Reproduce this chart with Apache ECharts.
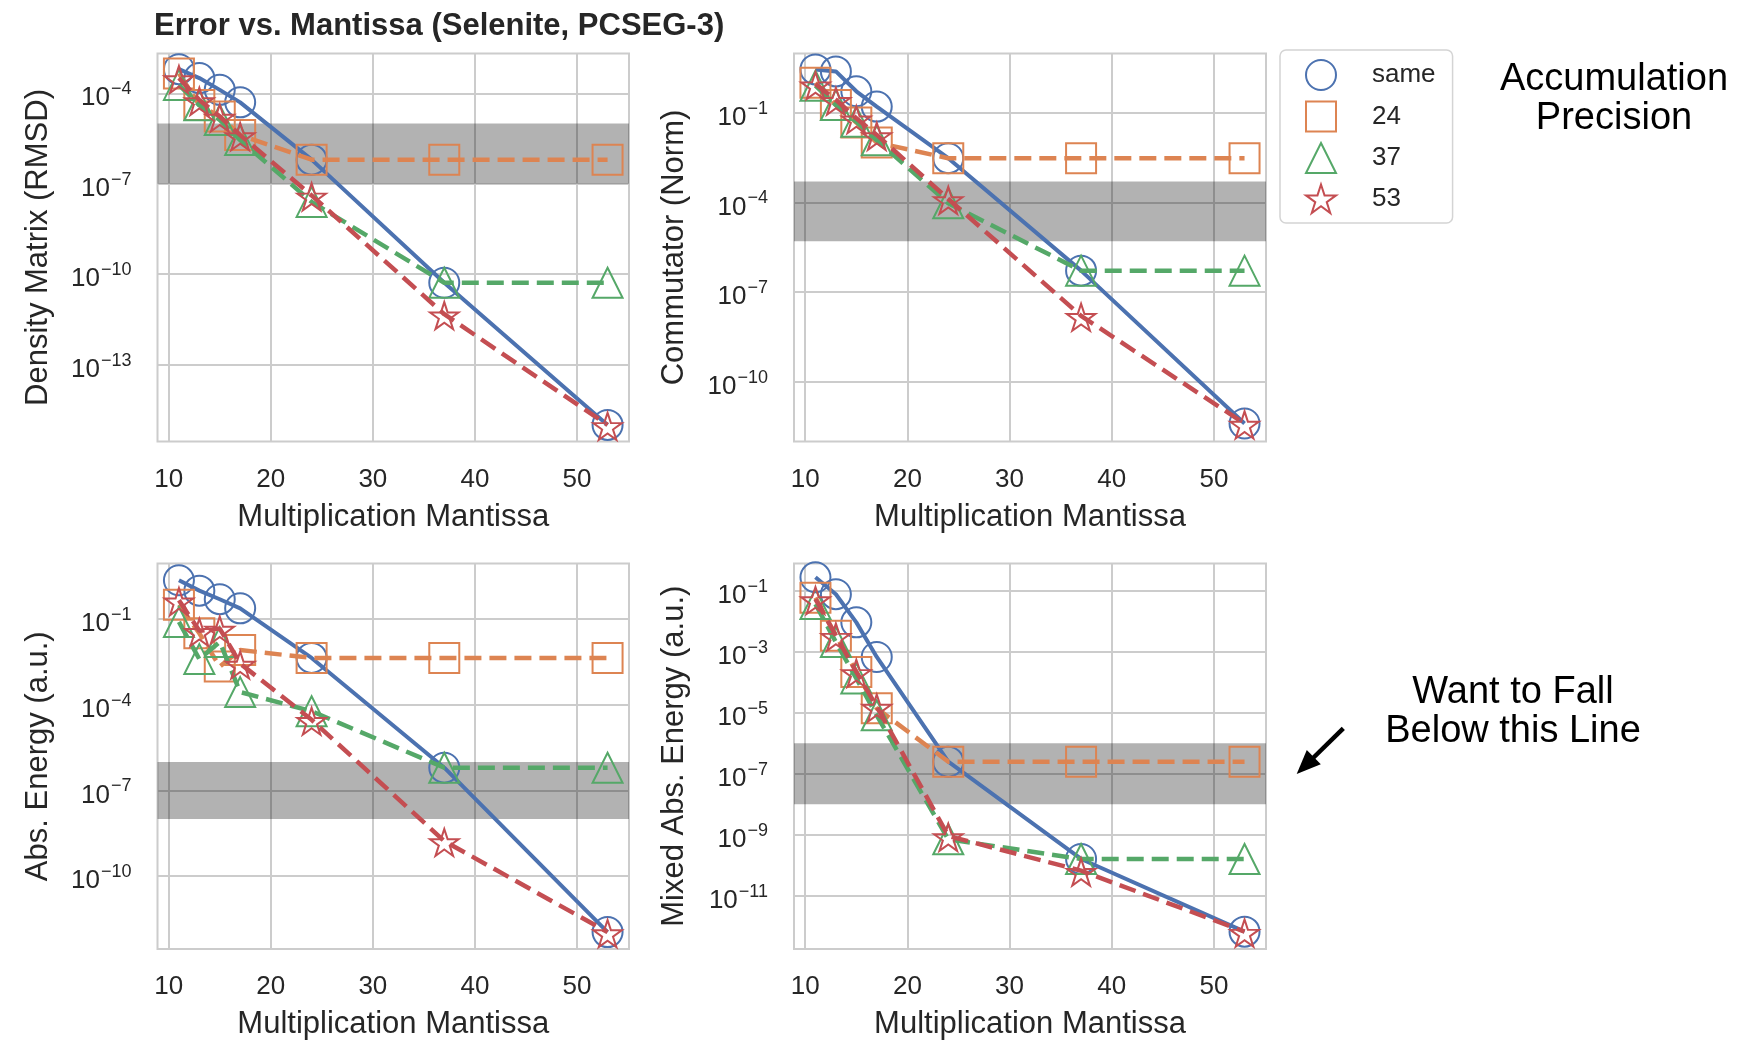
<!DOCTYPE html>
<html>
<head>
<meta charset="utf-8">
<script src="https://cdn.jsdelivr.net/npm/echarts@6/dist/echarts.min.js"></script>
<style>
html, body { margin: 0; padding: 0; background: #fff; }
#chart { width: 1750px; height: 1041px; }
</style>
</head>
<body>
<div id="chart"></div>
<script>
// multiplication mantissa bits (x) and accumulation precisions (series)
const mantissa = [11, 13, 15, 17, 24, 37, 53];
const precisions = ['same', '24', '37', '53'];
const xTicks = [10, 20, 30, 40, 50];

// Density Matrix (RMSD)
const densitySame = [6.3e-4, 3.2e-4, 1.3e-4, 5.0e-5, 6.3e-7, 5.2e-11, 1.0e-15];
const density24 = [4.5e-4, 4.1e-5, 1.7e-5, 4.1e-6, 6.3e-7, 6.3e-7, 6.3e-7];
const density37 = [1.9e-4, 4.0e-5, 1.3e-5, 2.8e-6, 2.5e-8, 5.2e-11, 5.2e-11];
const density53 = [3.2e-4, 6.0e-5, 1.7e-5, 4.1e-6, 4.1e-8, 4.7e-12, 1.0e-15];

// Commutator (Norm)
const commSame = [2.8, 2.4, 0.52, 0.16, 3.0e-3, 5.2e-7, 4.0e-12];
const comm24 = [1.0, 0.18, 0.047, 0.010, 3.0e-3, 3.0e-3, 3.0e-3];
const comm37 = [0.8, 0.18, 0.050, 0.012, 9.3e-5, 5.2e-7, 5.2e-7];
const comm53 = [0.9, 0.27, 0.065, 0.018, 1.3e-4, 1.6e-8, 4.0e-12];

// Abs. Energy (a.u.)
const energySame = [2.3, 1.0, 0.5, 0.24, 4.4e-3, 6.3e-7, 1.1e-12];
const energy24 = [0.32, 0.032, 2.2e-3, 8.3e-3, 4.4e-3, 4.4e-3, 4.4e-3];
const energy37 = [0.08, 4.0e-3, 0.016, 2.8e-4, 6.0e-5, 6.3e-7, 6.3e-7];
const energy53 = [0.46, 0.039, 0.047, 2.8e-3, 3.0e-5, 1.7e-9, 1.1e-12];

// Mixed Abs. Energy (a.u.)
const mixedSame = [0.28, 0.078, 9.3e-3, 6.8e-4, 2.5e-7, 1.6e-10, 6.6e-13];
const mixed24 = [0.06, 3.4e-3, 2.2e-4, 1.4e-5, 2.5e-7, 2.5e-7, 2.5e-7];
const mixed37 = [0.037, 2.1e-3, 1.35e-4, 8.3e-6, 7.1e-10, 1.6e-10, 1.6e-10];
const mixed53 = [0.054, 3.4e-3, 2.2e-4, 1.6e-5, 9.1e-10, 6.6e-11, 6.6e-13];

// y tick values and target bands
const densityTicks = [1e-13, 1e-10, 1e-7, 1e-4];
const commTicks = [1e-10, 1e-7, 1e-4, 1e-1];
const energyTicks = [1e-10, 1e-7, 1e-4, 1e-1];
const mixedTicks = [1e-11, 1e-9, 1e-7, 1e-5, 1e-3, 1e-1];
const densityBand = [1e-7, 1e-5];
const commBand = [5e-6, 5e-4];
const energyBand = [1e-8, 1e-6];
const mixedBand = [1e-8, 1e-6];

const colors = ['#4C72B0', '#DD8452', '#55A868', '#C44E52'];
const FONT = '"Liberation Sans", Arial, Helvetica, sans-serif';
const TEXT = '#262626';

// matplotlib-like star marker
function starPath() {
    let d = '';
    for (let k = 0; k < 10; k++) {
        const r = k % 2 === 0 ? 1 : 0.382;
        const a = -Math.PI / 2 + k * Math.PI / 5;
        d += (k === 0 ? 'M' : 'L') + (r * Math.cos(a)).toFixed(4) + ' ' + (r * Math.sin(a)).toFixed(4);
    }
    return 'path://' + d + 'Z';
}
const symbols = ['circle', 'rect', 'triangle', starPath()];
const symbolSizes = [30, 30, 30, [28.5, 27]];

const panels = [
    {name: 'Density Matrix (RMSD)', values: [densitySame, density24, density37, density53],
        ticks: densityTicks, band: densityBand, yExp: [-15.55, -2.68],
        grid: {left: 157.5, top: 53.5, width: 471.5, height: 388}},
    {name: 'Commutator (Norm)', values: [commSame, comm24, comm37, comm53],
        ticks: commTicks, band: commBand, yExp: [-12.0, 0.98],
        grid: {left: 794, top: 53.5, width: 472, height: 388}},
    {name: 'Abs. Energy (a.u.)', values: [energySame, energy24, energy37, energy53],
        ticks: energyTicks, band: energyBand, yExp: [-12.55, 0.95],
        grid: {left: 157.5, top: 563.5, width: 471.5, height: 387}},
    {name: 'Mixed Abs. Energy (a.u.)', values: [mixedSame, mixed24, mixed37, mixed53],
        ticks: mixedTicks, band: mixedBand, yExp: [-12.75, -0.1],
        grid: {left: 794, top: 563.5, width: 472, height: 387}}
];

function powerLabel(value) {
    const e = Math.round(Math.log10(value));
    return '{b|10}{e|' + (e < 0 ? '\u2212' : '') + Math.abs(e) + '}';
}

const chart = echarts.init(document.getElementById('chart'));

const grids = [], xAxes = [], yAxes = [], series = [];
panels.forEach((p, i) => {
    grids.push(Object.assign({show: true, borderColor: '#cccccc', borderWidth: 2,
        backgroundColor: 'transparent', containLabel: false}, p.grid));
    xAxes.push({
        type: 'value', gridIndex: i, min: 8.9, max: 55.1,
        name: 'Multiplication Mantissa', nameLocation: 'middle', nameGap: 60,
        nameTextStyle: {fontSize: 31, color: TEXT, fontFamily: FONT},
        axisLine: {show: false},
        axisTick: {show: false, customValues: xTicks},
        axisLabel: {customValues: xTicks, fontSize: 26, color: TEXT, fontFamily: FONT, margin: 25},
        splitLine: {show: true, lineStyle: {color: '#cccccc', width: 2}}
    });
    yAxes.push({
        type: 'log', logBase: 10, gridIndex: i,
        min: Math.pow(10, p.yExp[0]), max: Math.pow(10, p.yExp[1]),
        name: p.name, nameLocation: 'middle', nameGap: 104,
        nameTextStyle: {fontSize: 31, color: TEXT, fontFamily: FONT},
        axisLine: {show: false},
        axisTick: {show: false, customValues: p.ticks},
        axisLabel: {
            customValues: p.ticks, margin: 26, formatter: powerLabel,
            rich: {
                b: {fontSize: 26, lineHeight: 26, padding: [10, 0, 0, 0], color: TEXT, fontFamily: FONT},
                e: {fontSize: 18, lineHeight: 18, verticalAlign: 'top', padding: [0, 0, 0, 1], color: TEXT, fontFamily: FONT}
            }
        },
        splitLine: {show: true, lineStyle: {color: '#cccccc', width: 2}}
    });
    p.values.forEach((vals, s) => {
        const item = {
            name: precisions[s], type: 'line', xAxisIndex: i, yAxisIndex: i,
            data: mantissa.map((m, k) => [m, vals[k]]),
            symbol: symbols[s], symbolSize: symbolSizes[s],
            symbolOffset: s === 3 ? [0, 1.4] : [0, 0],
            showAllSymbol: true, clip: false,
            itemStyle: {color: 'rgba(0,0,0,0)', borderColor: colors[s], borderWidth: 2},
            lineStyle: {color: colors[s], width: s === 0 ? 4 : 4.5, type: s === 0 ? 'solid' : [17, 8]},
            emphasis: {disabled: true},
            z: 2 + s
        };
        if (s === 0) {
            item.markArea = {
                silent: true,
                itemStyle: {color: 'rgba(0,0,0,0.3)'},
                data: [[{yAxis: p.band[0]}, {yAxis: p.band[1]}]]
            };
        }
        series.push(item);
    });
});

const option = {
    animation: false,
    backgroundColor: '#ffffff',
    textStyle: {fontFamily: FONT},
    grid: grids,
    xAxis: xAxes,
    yAxis: yAxes,
    legend: {
        left: 1280, top: 50, orient: 'vertical',
        itemWidth: 30, itemHeight: 30, itemGap: 9.5,
        padding: [9, 17, 9, 25],
        borderColor: '#d4d4d4', borderWidth: 1.5, borderRadius: 6,
        backgroundColor: '#ffffff', selectedMode: false,
        textStyle: {fontSize: 26, color: TEXT, fontFamily: FONT, padding: [0, 0, 0, 31]},
        data: precisions.map((n, s) => ({
            name: n, icon: symbols[s],
            itemStyle: {color: 'rgba(0,0,0,0)', borderColor: colors[s], borderWidth: 2}
        }))
    },
    graphic: [
        {type: 'text', left: 154, top: 11,
            style: {text: 'Error vs. Mantissa (Selenite, PCSEG-3)', fontSize: 31, fontWeight: 'bold',
                fill: TEXT, fontFamily: FONT}},
        {type: 'text', x: 1614, y: 99,
            style: {text: 'Accumulation\nPrecision', fontSize: 38, lineHeight: 38.5, fill: '#000',
                fontFamily: FONT, align: 'center', verticalAlign: 'middle'}},
        {type: 'text', x: 1513, y: 712,
            style: {text: 'Want to Fall\nBelow this Line', fontSize: 38, lineHeight: 39, fill: '#000',
                fontFamily: FONT, align: 'center', verticalAlign: 'middle'}},
        {type: 'line', shape: {x1: 1343.3, y1: 728.3, x2: 1309, y2: 762},
            style: {stroke: '#000', lineWidth: 4.5}},
        {type: 'polygon', shape: {points: [[1296.7, 774], [1306.8, 750.1], [1320.8, 764.3]]},
            style: {fill: '#000'}}
    ],
    series: series
};

chart.setOption(option);
</script>
</body>
</html>
